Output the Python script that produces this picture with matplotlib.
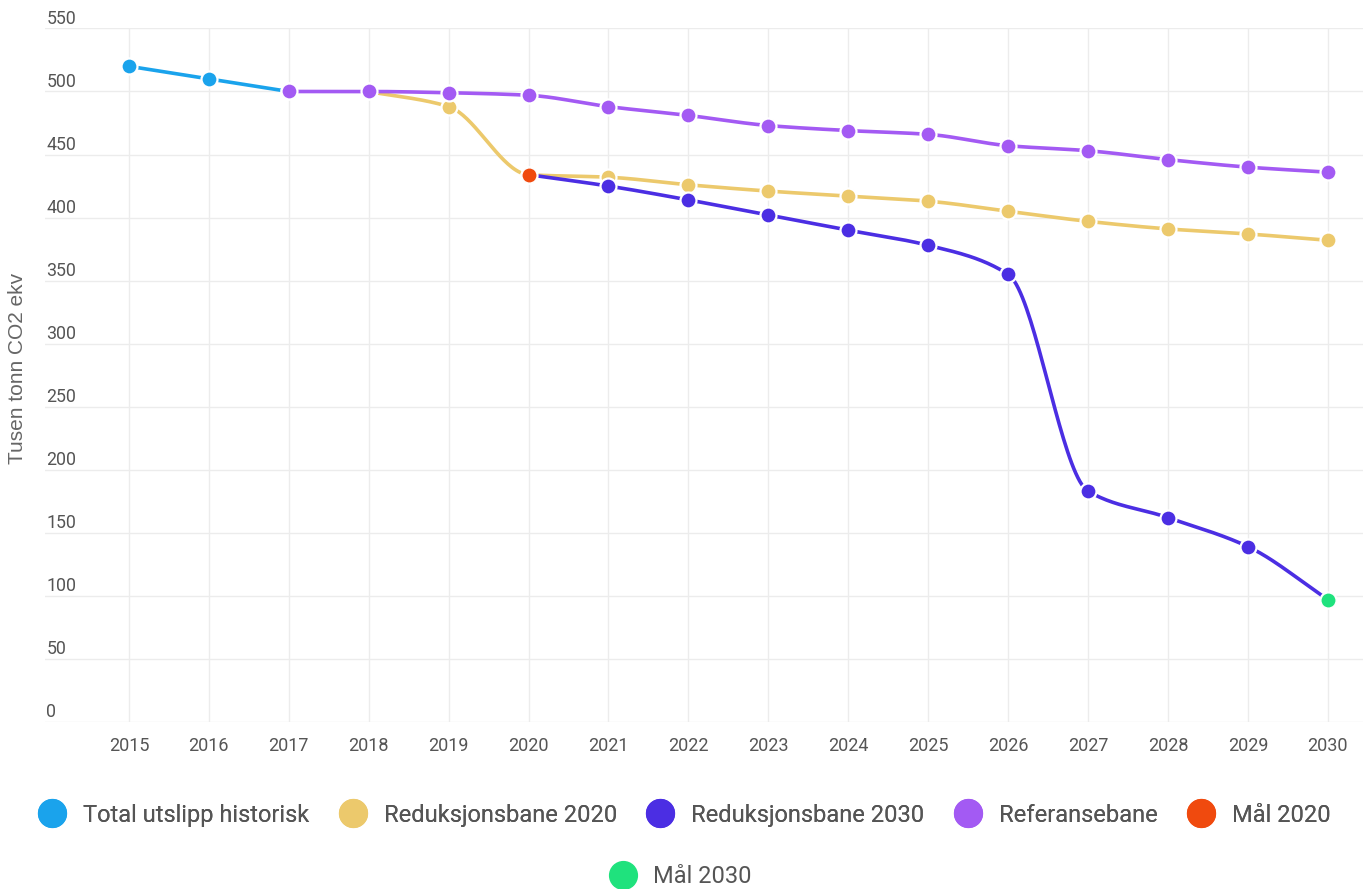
import matplotlib
matplotlib.use("Agg")
import matplotlib.pyplot as plt
import numpy as np
from matplotlib.lines import Line2D
from matplotlib.transforms import blended_transform_factory

plt.rcParams["font.family"] = ["Roboto", "DejaVu Sans"]

years = list(range(2015, 2031))

hist_years = [2015, 2016, 2017]
hist_vals = [520, 510, 500]

ref_years = list(range(2017, 2031))
ref_vals = [500, 500, 499, 497, 488, 481, 473, 469, 466, 457, 453, 446, 440, 436]

red2020_years = list(range(2018, 2031))
red2020_vals = [500, 488, 434, 432, 426, 421, 417, 413, 405, 397, 391, 387, 382]

red2030_years = list(range(2020, 2031))
red2030_vals = [434, 425, 414, 402, 390, 378, 355, 183, 162, 139, 97]

goal2020_years = [2020]
goal2020_vals = [434]
goal2030_years = [2030]
goal2030_vals = [97]

y_ticks = [0, 50, 100, 150, 200, 250, 300, 350, 400, 450, 500, 550]

c_hist = "#1aa3ec"
c_red20 = "#ecc96c"
c_red30 = "#4b2ee3"
c_ref = "#a35af3"
c_goal20 = "#f04a0e"
c_goal30 = "#1fe27d"


def monotone(x, y, n=40):
    # monotone cubic, like the smoothed lines in the source chart
    x = np.asarray(x, float)
    y = np.asarray(y, float)
    if len(x) < 3:
        return x, y
    h = np.diff(x)
    d = np.diff(y) / h
    m = np.zeros_like(y)
    m[0], m[-1] = d[0], d[-1]
    for k in range(1, len(x) - 1):
        if d[k - 1] * d[k] <= 0:
            m[k] = 0
        else:
            w1 = 2 * h[k] + h[k - 1]
            w2 = h[k] + 2 * h[k - 1]
            m[k] = (w1 + w2) / (w1 / d[k - 1] + w2 / d[k])
    xs, ys = [], []
    for k in range(len(x) - 1):
        t = np.linspace(0, 1, n)
        h00 = 2 * t**3 - 3 * t**2 + 1
        h10 = t**3 - 2 * t**2 + t
        h01 = -2 * t**3 + 3 * t**2
        h11 = t**3 - t**2
        xs.append(x[k] + t * h[k])
        ys.append(h00 * y[k] + h10 * h[k] * m[k] + h01 * y[k + 1] + h11 * h[k] * m[k + 1])
    return np.concatenate(xs), np.concatenate(ys)


fig = plt.figure(figsize=(13.63, 8.89), dpi=100)
ax = fig.add_axes([0.033, 0.188, 0.967, 0.780])

series = [
    (hist_years, hist_vals, c_hist, 2),
    (red2020_years, red2020_vals, c_red20, 3),
    (ref_years, ref_vals, c_ref, 4),
    (red2030_years, red2030_vals, c_red30, 5),
]
for xs, ys, col, z in series:
    sx, sy = monotone(xs, ys)
    ax.plot(sx, sy, color=col, lw=2.6, zorder=z, solid_capstyle="round")
    ax.plot(xs, ys, "o", color=col, ms=11.5, mec="white", mew=1.6, zorder=z + 0.5)

ax.plot(goal2020_years, goal2020_vals, "o", color=c_goal20, ms=11, mec="white", mew=1.0, zorder=7)
ax.plot(goal2030_years, goal2030_vals, "o", color=c_goal30, ms=11, mec="white", mew=1.0, zorder=7)

ax.set_xlim(2013.95, 2030.44)
ax.set_ylim(0, 550)
ax.set_xticks(years)
ax.set_xticklabels([str(y) for y in years], fontsize=13, color="#555555")
ax.set_yticks(y_ticks)
ax.set_yticklabels([])
ax.tick_params(length=0)
ax.tick_params(axis="x", pad=11)
ax.grid(True, color="#ececec", lw=1)
for s in ax.spines.values():
    s.set_visible(False)

tr = blended_transform_factory(ax.transAxes, ax.transData)
for v in y_ticks:
    ax.text(0.001, v + 3.5, str(v), transform=tr, ha="left", va="baseline",
            fontsize=12.8, color="#555555", clip_on=False)

fig.text(0.013, 0.585, "Tusen tonn CO2 ekv", rotation=90, ha="center", va="center",
         fontsize=15, color="#666666", family=["Liberation Sans", "DejaVu Sans"])

labels1 = ["Total utslipp historisk", "Reduksjonsbane 2020", "Reduksjonsbane 2030",
           "Referansebane", "Mål 2020"]
cols1 = [c_hist, c_red20, c_red30, c_ref, c_goal20]
h1 = [Line2D([], [], marker="o", ls="", color=c, ms=20) for c in cols1]
leg1 = fig.legend(h1, labels1, loc="center", bbox_to_anchor=(0.502, 0.083), ncol=5,
                  frameon=False, fontsize=17, handletextpad=0.7, columnspacing=1.25,
                  labelcolor="#555555", handlelength=1.2)
fig.add_artist(leg1)
h2 = [Line2D([], [], marker="o", ls="", color=c_goal30, ms=20)]
fig.legend(h2, ["Mål 2030"], loc="center", bbox_to_anchor=(0.499, 0.0135), frameon=False,
           fontsize=17, handletextpad=0.7, labelcolor="#555555", handlelength=1.2)

fig.savefig("out.png", dpi=100, facecolor="white")
